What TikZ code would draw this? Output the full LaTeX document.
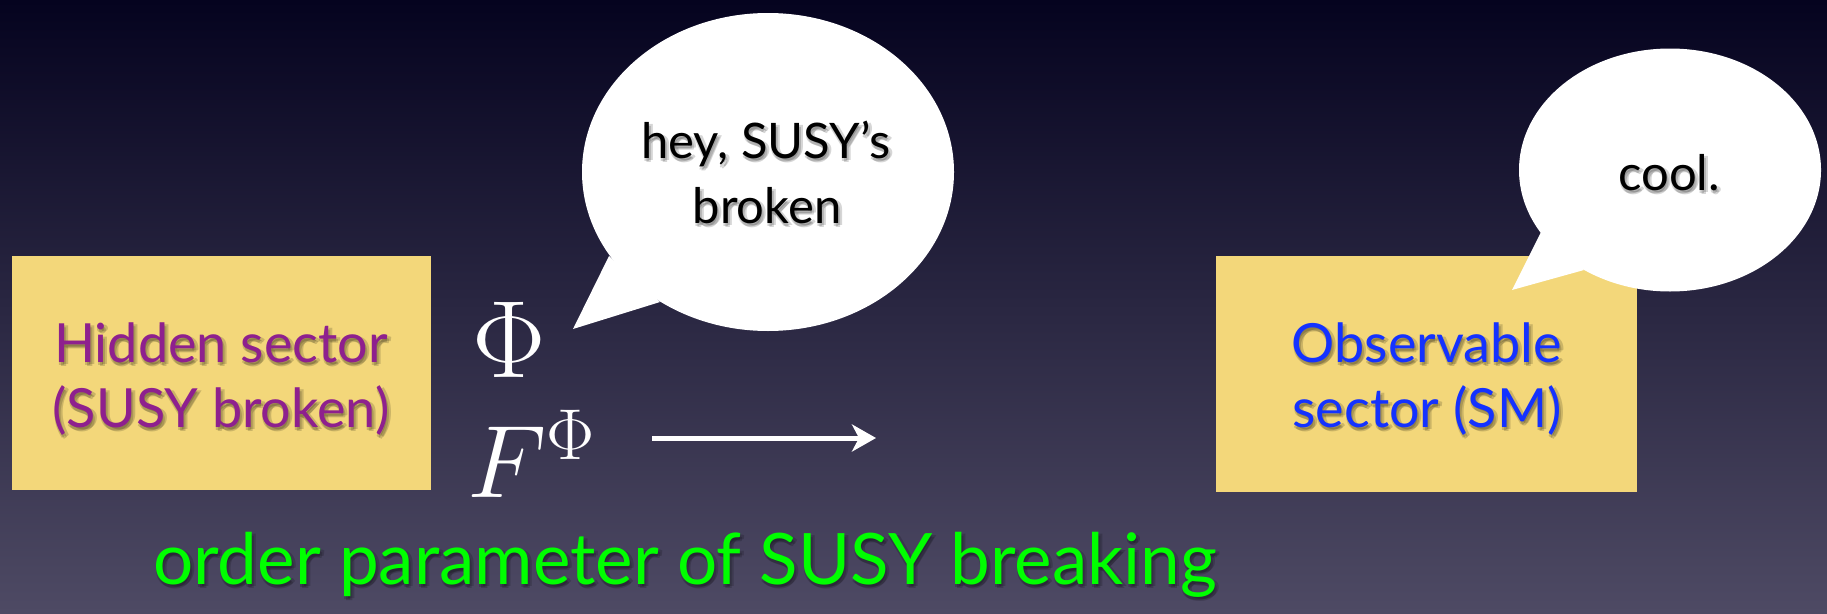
\RequirePackage{fix-cm}
\documentclass[tikz,border=0pt]{standalone}
\usepackage[no-math]{fontspec}
\newfontfamily\gill{Lato}
\usetikzlibrary{shapes.geometric,arrows.meta}
\definecolor{bgtop}{RGB}{5,3,31}
\definecolor{bgmid}{RGB}{36,35,64}
\definecolor{bgbot}{RGB}{78,74,100}
\definecolor{boxyel}{RGB}{243,215,122}
\definecolor{hidpurple}{RGB}{142,32,142}
\definecolor{obsblue}{RGB}{20,50,255}
\definecolor{ordgreen}{RGB}{0,255,0}
\tikzset{
  sector/.style={rectangle, fill=boxyel, draw=none, inner sep=0pt},
  bubble/.style={ellipse, fill=white, draw=none, inner sep=0pt},
  boxtext/.style={anchor=base, inner sep=0pt, font=\gill\fontsize{54}{60}\selectfont},
  bubtext/.style={anchor=base, inner sep=0pt, text=black, font=\gill\fontsize{49}{60}\selectfont},
  bigtext/.style={anchor=base, inner sep=0pt, text=ordgreen, font=\gill\fontsize{71}{80}\selectfont},
  mathtext/.style={anchor=base, inner sep=0pt, text=white},
  shadowsty/.style={text=black, text opacity=0.16},
}
\newcommand\shtext[5]{%
  \node[#4,shadowsty] at (#2+2,#3+4) {#5};
  \node[#4,shadowsty] at (#2+4,#3+2) {#5};
  \node[#4,shadowsty] at (#2,#3+3) {#5};
  \node[#4] (#1) at (#2,#3) {#5};}
\begin{document}
\begin{tikzpicture}[x=1pt,y=-1pt]
% background
\shade[top color=bgtop, middle color=bgmid, bottom color=bgbot] (0,0) rectangle (1827,613);
\useasboundingbox (0,0) rectangle (1827,613);
% sector boxes
\node[sector, minimum width=419pt, minimum height=234pt] (hid) at (221.5,373) {};
\node[sector, minimum width=421pt, minimum height=236pt] (obs) at (1426.5,374) {};
% speech bubbles
\node[bubble, minimum width=372pt, minimum height=318pt] (b1) at (768,172) {};
\coordinate (b1tip) at (573,329);
\coordinate (b1l) at (609,256);
\coordinate (b1r) at (660,302);
\fill[white] (b1l) -- (b1tip) -- (b1r) -- cycle;
\node[bubble, minimum width=302pt, minimum height=243pt] (b2) at (1670,170) {};
\coordinate (b2tip) at (1512,290);
\coordinate (b2l) at (1541,232);
\coordinate (b2r) at (1584,270);
\fill[white] (b2l) -- (b2tip) -- (b2r) -- cycle;
% texts
\shtext{hid1}{221}{362}{boxtext,text=hidpurple}{Hidden sector}
\shtext{hid2}{221}{427}{boxtext,text=hidpurple}{(SUSY broken)}
\shtext{obs1}{1427}{362}{boxtext,text=obsblue}{Observable}
\shtext{obs2}{1427}{427}{boxtext,text=obsblue}{sector (SM)}
\shtext{say1}{766}{158}{bubtext}{hey, SUSY’s}
\shtext{say2}{767}{223}{bubtext}{broken}
\shtext{say3}{1669}{190}{bubtext}{cool.}
\shtext{order}{685}{584}{bigtext}{order parameter of SUSY breaking}
% math
\node[mathtext, font=\fontsize{110}{120}\selectfont] (phi) at (509,377) {$\Phi$};
\node[mathtext, font=\fontsize{103}{120}\selectfont] (fphi) at (531,497) {$F^{\Phi}$};
% arrow
\coordinate (a1) at (652,438);
\coordinate (a2) at (876,438);
\draw[white, line width=5pt, -{Stealth[length=24pt,width=27pt,inset=7pt]}] (a1) -- (a2);
\end{tikzpicture}
\end{document}
